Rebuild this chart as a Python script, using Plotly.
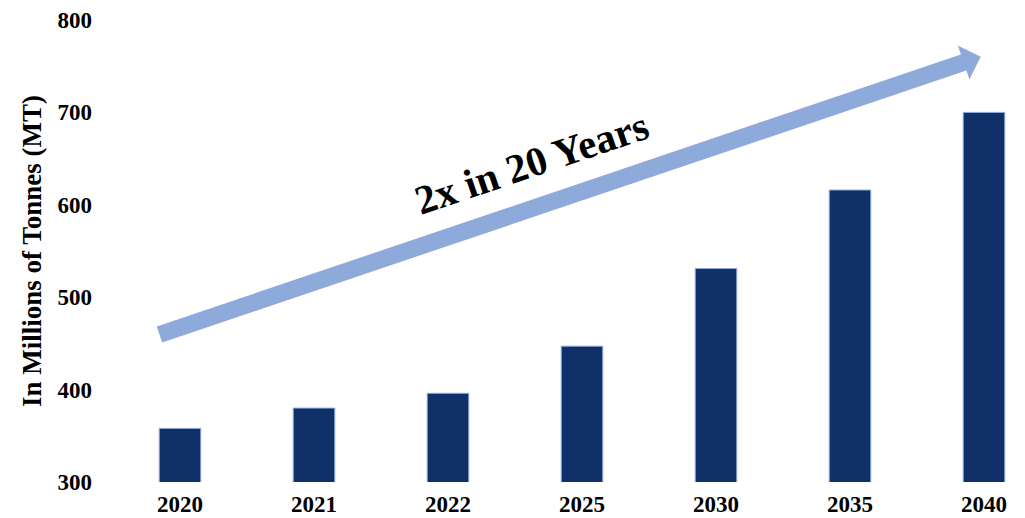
import math
import plotly.graph_objects as go

# Production outlook, millions of tonnes
years = ["2020", "2021", "2022", "2025", "2030", "2035", "2040"]
volumes = [358, 380, 396, 447, 531, 616, 700]
y_ticks = [300, 400, 500, 600, 700, 800]

W, H = 1025, 518
ML, MR, MT, MB = 113, 0, 20, 36
PW, PH = W - ML - MR, H - MT - MB

BAR = "#10306a"
ARROW = "#8eaadb"
FONT = "Liberation Serif"

fig = go.Figure(
    go.Bar(
        x=years,
        y=volumes,
        width=0.31,
        marker=dict(color=BAR, line=dict(color="#8eaadb", width=1)),
        hoverinfo="x+y",
    )
)


def to_paper(px, py):
    return (px - ML) / PW, (H - MB - py) / PH


# Trend arrow drawn as a filled polygon (pixel geometry -> paper coords)
tail = (159.5, 334.5)
tip = (980.7, 56.7)
shaft_half = 8.5
head_len = 18.0
head_half = 18.0
dx, dy = tip[0] - tail[0], tip[1] - tail[1]
L = math.hypot(dx, dy)
ux, uy = dx / L, dy / L
nx, ny = -uy, ux
bx, by = tip[0] - ux * head_len, tip[1] - uy * head_len
pts = [
    (tail[0] + nx * shaft_half, tail[1] + ny * shaft_half),
    (bx + nx * shaft_half, by + ny * shaft_half),
    (bx + nx * head_half, by + ny * head_half),
    tip,
    (bx - nx * head_half, by - ny * head_half),
    (bx - nx * shaft_half, by - ny * shaft_half),
    (tail[0] - nx * shaft_half, tail[1] - ny * shaft_half),
]
path = "M " + " L ".join(f"{to_paper(*p)[0]:.5f},{to_paper(*p)[1]:.5f}" for p in pts) + " Z"
fig.add_shape(type="path", xref="paper", yref="paper", path=path,
              fillcolor=ARROW, line=dict(width=0), layer="above")

angle = math.degrees(math.atan2(-dy, dx))
lx, ly = to_paper(531, 163)
fig.add_annotation(
    x=lx, y=ly, xref="paper", yref="paper",
    text="2x in 20 Years", showarrow=False,
    textangle=-angle, xanchor="center", yanchor="middle",
    font=dict(family=FONT, size=41, color="black", weight="bold"),
)

fig.update_layout(
    width=W, height=H,
    margin=dict(l=ML, r=MR, t=MT, b=MB, pad=0),
    paper_bgcolor="white", plot_bgcolor="white",
    showlegend=False,
    font=dict(family=FONT, color="black"),
    xaxis=dict(
        type="category",
        range=[-0.5, -0.5 + PW / 134.0],
        showgrid=False, zeroline=False, showline=False,
        ticks="", tickfont=dict(family=FONT, size=23, color="black", weight="bold"),
        ticklabelstandoff=6,
    ),
    yaxis=dict(
        range=[300, 800],
        tickvals=y_ticks,
        showgrid=False, zeroline=False, showline=False,
        ticks="", tickfont=dict(family=FONT, size=23, color="black", weight="bold"),
        ticklabelstandoff=20,
        title=dict(text="In Millions of Tonnes (MT)", standoff=8,
                   font=dict(family=FONT, size=27, color="black", weight="bold")),
    ),
)

fig.write_html("out.html")
